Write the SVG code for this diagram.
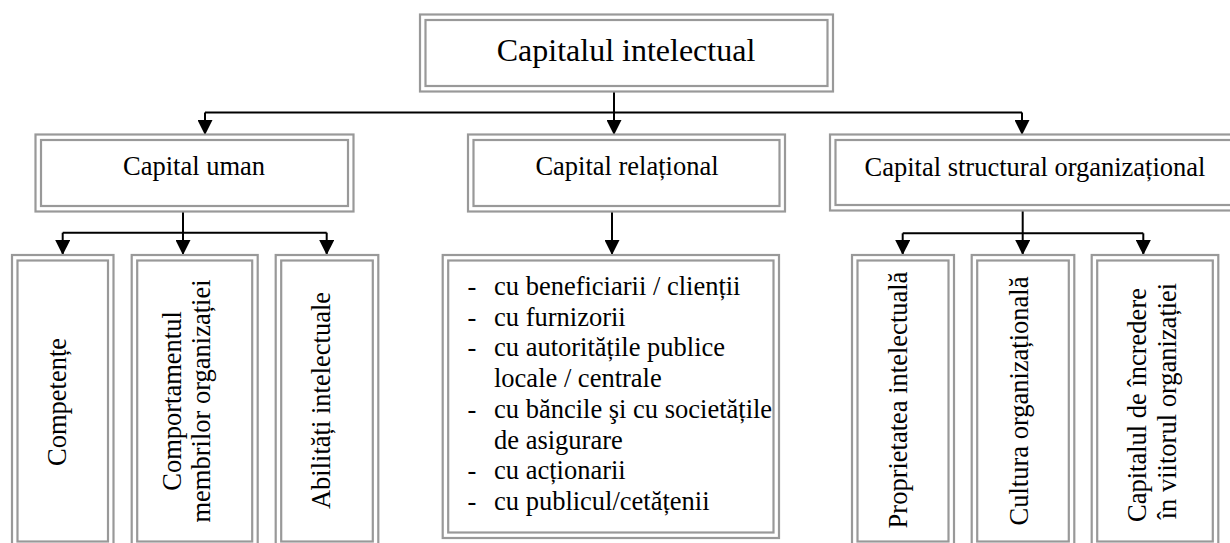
<svg xmlns="http://www.w3.org/2000/svg" width="1230" height="543" viewBox="0 0 1230 543">
  <style>
    .frame { fill: #ffffff; stroke: #999999; stroke-width: 2.2; }
    .inner { fill: none; stroke: #999999; stroke-width: 2.2; }
    .lbl { font-family: "Liberation Serif", "Times New Roman", serif; fill: #000000; }
    .big { font-size: 32px; text-anchor: middle; }
    .mid { font-size: 26.5px; text-anchor: middle; }
    .lst { font-size: 26.5px; }
    .wire { fill: none; stroke: #000000; stroke-width: 2; }
  </style>
  <defs>
    <marker id="arrow" markerUnits="userSpaceOnUse" markerWidth="15" markerHeight="15" refX="15" refY="7.5" orient="auto">
      <path d="M0,0 L15,7.5 L0,15 z" fill="#000000"/>
    </marker>
  </defs>
  <rect width="1230" height="543" fill="#ffffff"/>

  <!-- connectors -->
  <g id="connectors">
    <path class="wire" d="M614,91.5 V112.5 M205,112.5 H1022"/>
    <path class="wire" d="M205,112.5 V135" marker-end="url(#arrow)"/>
    <path class="wire" d="M614,112.5 V135" marker-end="url(#arrow)"/>
    <path class="wire" d="M1022,112.5 V135" marker-end="url(#arrow)"/>

    <path class="wire" d="M183,211.5 V232.7 M62.7,232.7 H326.7"/>
    <path class="wire" d="M62.7,232.7 V255" marker-end="url(#arrow)"/>
    <path class="wire" d="M183,232.7 V255" marker-end="url(#arrow)"/>
    <path class="wire" d="M326.7,232.7 V255" marker-end="url(#arrow)"/>

    <path class="wire" d="M612,211.5 V255" marker-end="url(#arrow)"/>

    <path class="wire" d="M1022.7,210.5 V233.3 M902.7,233.3 H1143.3"/>
    <path class="wire" d="M902.7,233.3 V255" marker-end="url(#arrow)"/>
    <path class="wire" d="M1022.7,233.3 V255" marker-end="url(#arrow)"/>
    <path class="wire" d="M1143.3,233.3 V255" marker-end="url(#arrow)"/>
  </g>

  <!-- root -->
  <g id="capital-intelectual">
    <rect class="frame" x="420" y="14.5" width="413" height="77"/>
    <rect class="inner" x="425.5" y="20" width="402" height="66"/>
    <text class="lbl big" x="626" y="61">Capitalul intelectual</text>
  </g>

  <!-- second level -->
  <g id="capital-uman">
    <rect class="frame" x="35.5" y="134.5" width="318" height="77"/>
    <rect class="inner" x="41" y="140" width="307" height="66"/>
    <text class="lbl mid" x="194" y="175">Capital uman</text>
  </g>
  <g id="capital-relational">
    <rect class="frame" x="468" y="134.5" width="317" height="77"/>
    <rect class="inner" x="473.5" y="140" width="306" height="66"/>
    <text class="lbl mid" x="627" y="175">Capital relațional</text>
  </g>
  <g id="capital-structural">
    <rect class="frame" x="830" y="134.5" width="420" height="76"/>
    <rect class="inner" x="835.5" y="140" width="409" height="65"/>
    <text class="lbl mid" x="1035" y="176">Capital structural organizațional</text>
  </g>

  <!-- human capital components -->
  <g id="competente">
    <rect class="frame" x="12" y="255" width="101.5" height="292"/>
    <rect class="inner" x="17.5" y="260.5" width="90.5" height="281"/>
    <text class="lbl mid" x="65.5" y="402" transform="rotate(-90 65.5 402)">Competențe</text>
  </g>
  <g id="comportamentul">
    <rect class="frame" x="131.7" y="255" width="126" height="292"/>
    <rect class="inner" x="137.2" y="260.5" width="115" height="281"/>
    <text class="lbl mid" x="181" y="401" transform="rotate(-90 181 401)">Comportamentul</text>
    <text class="lbl mid" x="210" y="401" transform="rotate(-90 210 401)">membrilor organizației</text>
  </g>
  <g id="abilitati">
    <rect class="frame" x="275.7" y="255" width="102.6" height="292"/>
    <rect class="inner" x="281.2" y="260.5" width="91.6" height="281"/>
    <text class="lbl mid" x="330" y="400.5" transform="rotate(-90 330 400.5)">Abilități intelectuale</text>
  </g>

  <!-- relational capital list -->
  <g id="relatii">
    <rect class="frame" x="442.7" y="255" width="336.3" height="283"/>
    <rect class="inner" x="448.2" y="260.5" width="325.3" height="272"/>
    <g class="lbl lst">
      <text x="467.5" y="295">-</text><text x="494" y="295">cu beneficiarii / clienții</text>
      <text x="467.5" y="325.7">-</text><text x="494" y="325.7">cu furnizorii</text>
      <text x="467.5" y="356.4">-</text><text x="494" y="356.4">cu autoritățile publice</text>
      <text x="494" y="387.1">locale / centrale</text>
      <text x="467.5" y="417.8">-</text><text x="494" y="417.8">cu băncile şi cu societățile</text>
      <text x="494" y="448.5">de asigurare</text>
      <text x="467.5" y="479.2">-</text><text x="494" y="479.2">cu acționarii</text>
      <text x="467.5" y="510">-</text><text x="494" y="510">cu publicul/cetățenii</text>
    </g>
  </g>

  <!-- structural capital components -->
  <g id="proprietatea">
    <rect class="frame" x="852" y="255" width="102" height="292"/>
    <rect class="inner" x="857.5" y="260.5" width="91" height="281"/>
    <text class="lbl mid" x="907" y="400" transform="rotate(-90 907 400)">Proprietatea intelectuală</text>
  </g>
  <g id="cultura">
    <rect class="frame" x="971.7" y="255" width="102.6" height="292"/>
    <rect class="inner" x="977.2" y="260.5" width="91.6" height="281"/>
    <text class="lbl mid" x="1027.5" y="401" transform="rotate(-90 1027.5 401)">Cultura organizațională</text>
  </g>
  <g id="incredere">
    <rect class="frame" x="1091.7" y="255" width="126.6" height="292"/>
    <rect class="inner" x="1097.2" y="260.5" width="115.6" height="281"/>
    <text class="lbl mid" x="1146" y="405" transform="rotate(-90 1146 405)">Capitalul de încredere</text>
    <text class="lbl mid" x="1176" y="401" transform="rotate(-90 1176 401)">în viitorul organizației</text>
  </g>
</svg>
